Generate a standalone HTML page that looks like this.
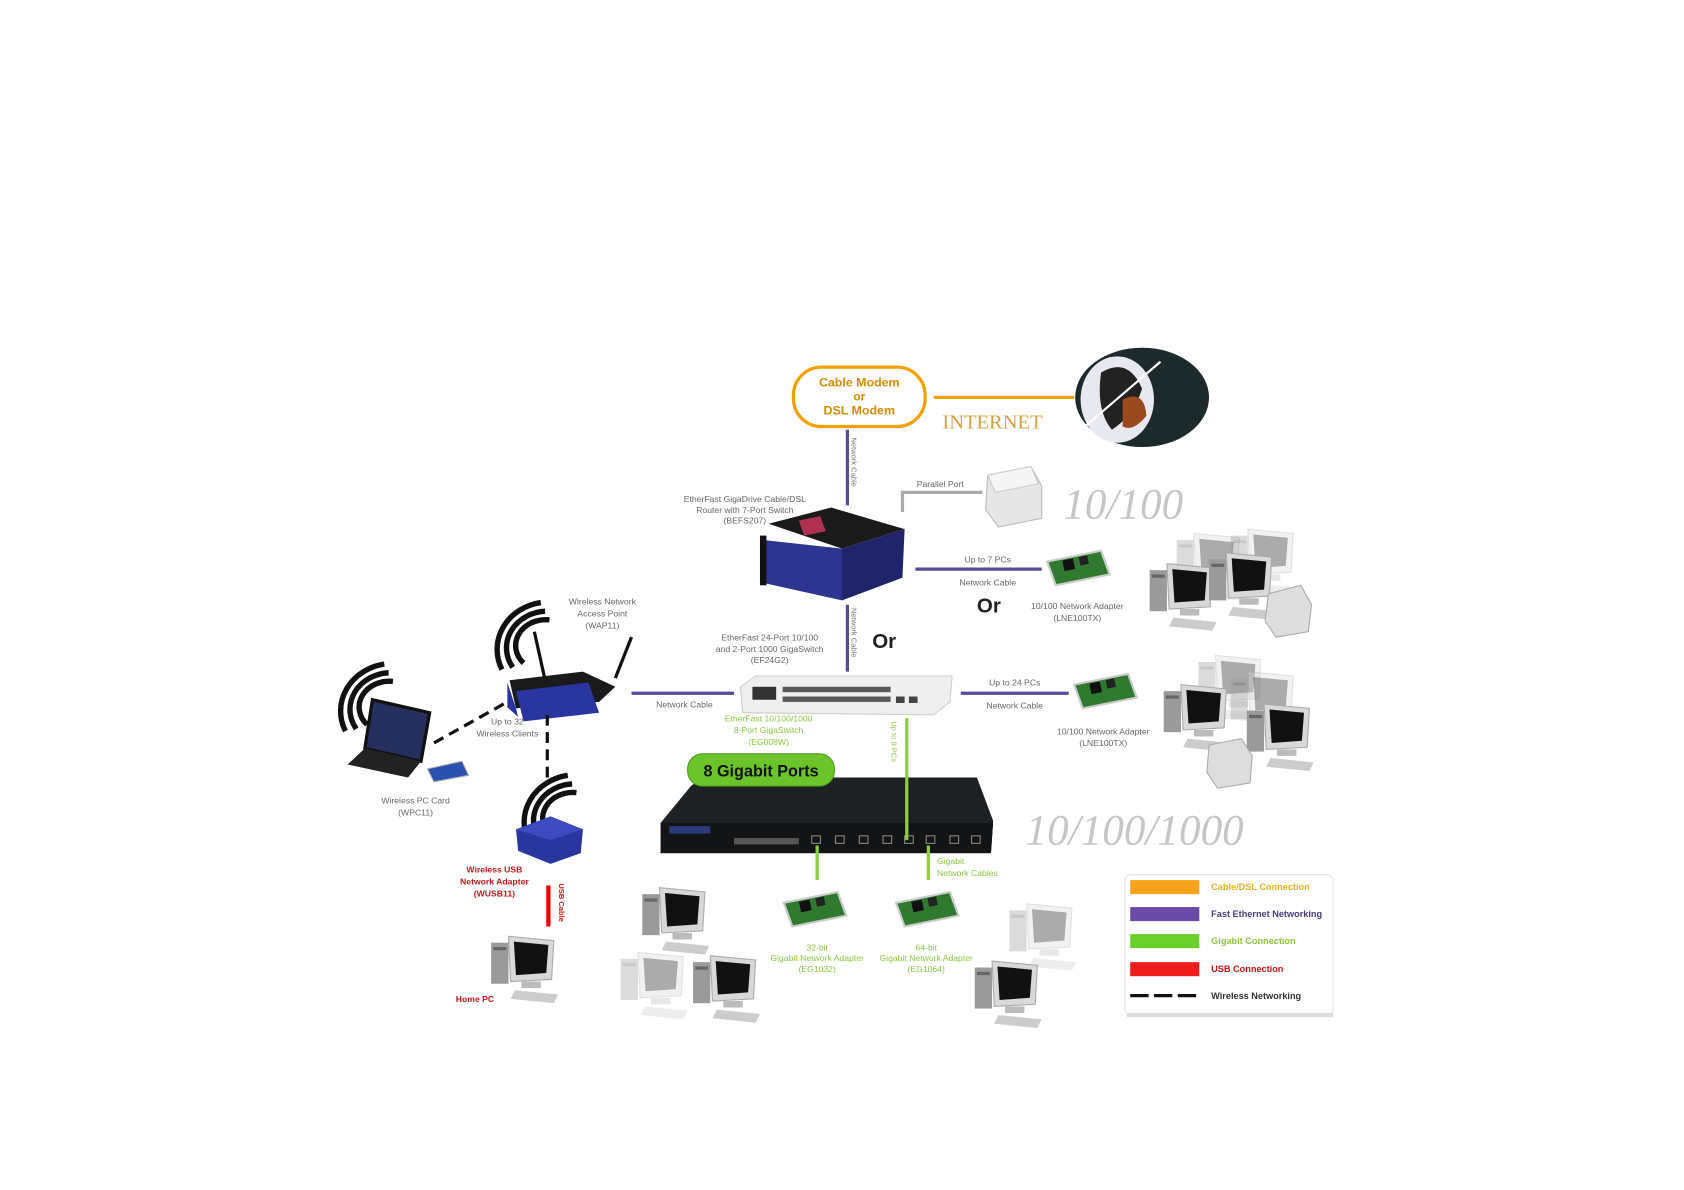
<!DOCTYPE html>
<html><head><meta charset="utf-8"><style>
html,body{margin:0;padding:0;background:#fff;}
svg{display:block;font-family:"Liberation Sans",sans-serif;}
.s{font-size:8px;fill:#666;text-anchor:middle;}
.g{font-size:8px;fill:#8cc63f;text-anchor:middle;}
.r{font-size:8px;fill:#c8161d;text-anchor:middle;font-weight:bold;}
</style></head><body>
<svg width="1684" height="1190" viewBox="0 0 1560 1102" preserveAspectRatio="none" xmlns="http://www.w3.org/2000/svg">
<defs>
<g id="pc">
 <rect x="0" y="8" width="16" height="38" fill="#9a9a9a"/>
 <rect x="2" y="12" width="12" height="3" fill="#666"/>
 <polygon points="16,2 58,6 56,42 18,44" fill="#d8d8d8" stroke="#aaa"/>
 <polygon points="21,7 53,10 51,36 23,38" fill="#111"/>
 <rect x="28" y="44" width="18" height="6" fill="#bbb"/>
 <polygon points="22,52 62,56 58,64 18,60" fill="#ccc"/>
</g>
<g id="pcl" opacity="0.35"><use href="#pc"/></g>
<g id="nic">
 <polygon points="0,10 50,0 58,22 8,32" fill="#2f7a2f" stroke="#ccc" stroke-width="2"/>
 <rect x="15" y="8" width="10" height="10" fill="#111" transform="rotate(-12 20 13)"/>
 <rect x="30" y="5" width="8" height="8" fill="#222" transform="rotate(-12 34 9)"/>
</g>
<g id="arc" fill="none" stroke="#111" stroke-width="5">
 <path d="M40,60 A38,34 0 0 1 70,8"/>
 <path d="M30,62 A48,44 0 0 1 66,0"/>
 <path d="M50,56 A28,24 0 0 1 74,16"/>
</g>
</defs>

<rect x="735" y="340" width="122" height="55" rx="26" fill="#fff" stroke="#f5a000" stroke-width="3"/>
<text x="796" y="358" font-size="11.5" font-weight="bold" fill="#d98a00" text-anchor="middle">Cable Modem</text>
<text x="796" y="371" font-size="11" font-weight="bold" fill="#d98a00" text-anchor="middle">or</text>
<text x="796" y="384" font-size="11.5" font-weight="bold" fill="#d98a00" text-anchor="middle">DSL Modem</text>
<line x1="865" y1="368" x2="995" y2="368" stroke="#f5a000" stroke-width="3"/>
<text x="873" y="397" font-family="Liberation Serif,serif" font-size="19" fill="#d9a040">INTERNET</text>
<ellipse cx="1058" cy="368" rx="62" ry="46" fill="#1d2a2c"/>
<ellipse cx="1035" cy="370" rx="34" ry="40" fill="#e8e8f0"/>
<path d="M1020,345 Q1045,330 1058,360 Q1050,385 1030,398 Q1015,380 1020,345Z" fill="#222"/>
<path d="M1040,370 Q1060,360 1062,385 Q1050,400 1040,395Z" fill="#9a4a1e"/>
<path d="M1005,395 L1075,335" stroke="#fff" stroke-width="2"/>

<line x1="785" y1="398" x2="785" y2="468" stroke="#5a4a9a" stroke-width="3"/>
<text transform="translate(789,405) rotate(90)" font-size="7" fill="#777">Network Cable</text>
<text x="690" y="465" class="s">EtherFast GigaDrive Cable/DSL</text>
<text x="690" y="475" class="s">Router with 7-Port Switch</text>
<text x="690" y="485" class="s">(BEFS207)</text>
<polygon points="712,485 770,470 838,490 780,508" fill="#1a1a1a"/>
<polygon points="740,482 760,478 765,492 745,496" fill="#b03050"/>
<polygon points="706,500 780,508 780,556 708,540" fill="#2e3590"/>
<polygon points="780,508 838,490 836,535 780,556" fill="#20246a"/>
<rect x="704" y="496" width="6" height="46" fill="#111"/>
<polyline points="836,474 836,456 910,456" fill="none" stroke="#aaa" stroke-width="3"/>
<text x="871" y="451" class="s" font-size="7">Parallel Port</text>
<polygon points="915,440 955,432 965,450 965,480 925,488 913,472" fill="#e6e6e6" stroke="#bbb"/>
<polygon points="915,440 955,432 962,448 922,456" fill="#f5f5f5" stroke="#ccc"/>
<text x="985" y="480" font-family="Liberation Serif,serif" font-style="italic" font-size="40" fill="#c6c6c6">10/100</text>

<line x1="848" y1="527" x2="965" y2="527" stroke="#5a4a9a" stroke-width="3"/>
<text x="915" y="521" class="s">Up to 7 PCs</text>
<text x="915" y="542" class="s">Network Cable</text>
<use href="#nic" x="970" y="510"/>
<text x="905" y="567" font-size="19" font-weight="bold" fill="#222">Or</text>
<text x="998" y="564" class="s">10/100 Network Adapter</text>
<text x="998" y="575" class="s">(LNE100TX)</text>
<use href="#pcl" x="1090" y="492"/>
<use href="#pcl" x="1140" y="488"/>
<use href="#pc" x="1065" y="520"/>
<use href="#pc" x="1120" y="510"/>
<polygon points="1175,550 1205,542 1215,560 1212,585 1182,590 1172,575" fill="#ddd" stroke="#aaa"/>

<line x1="785" y1="560" x2="785" y2="622" stroke="#5a4a9a" stroke-width="3"/>
<text transform="translate(789,563) rotate(90)" font-size="7" fill="#777">Network Cable</text>
<text x="808" y="600" font-size="19" font-weight="bold" fill="#222">Or</text>
<text x="713" y="593" class="s">EtherFast 24-Port 10/100</text>
<text x="713" y="604" class="s">and 2-Port 1000 GigaSwitch</text>
<text x="713" y="614" class="s">(EF24G2)</text>
<polygon points="686,636 700,626 882,626 880,650 865,662 688,660" fill="#efefef" stroke="#ccc"/>
<rect x="697" y="636" width="22" height="12" fill="#333"/>
<rect x="725" y="636" width="100" height="5" fill="#333" opacity="0.8"/>
<rect x="725" y="645" width="100" height="5" fill="#333" opacity="0.8"/>
<rect x="830" y="645" width="8" height="6" fill="#444"/><rect x="842" y="645" width="8" height="6" fill="#444"/>

<line x1="585" y1="642" x2="680" y2="642" stroke="#5a4a9a" stroke-width="3"/>
<text x="634" y="655" class="s">Network Cable</text>
<line x1="890" y1="642" x2="990" y2="642" stroke="#5a4a9a" stroke-width="3"/>
<text x="940" y="635" class="s">Up to 24 PCs</text>
<text x="940" y="656" class="s">Network Cable</text>
<use href="#nic" x="995" y="624"/>
<text x="1022" y="680" class="s">10/100 Network Adapter</text>
<text x="1022" y="691" class="s">(LNE100TX)</text>
<use href="#pcl" x="1110" y="605"/>
<use href="#pcl" x="1140" y="620"/>
<use href="#pc" x="1078" y="632"/>
<use href="#pc" x="1155" y="650"/>
<polygon points="1120,690 1150,684 1160,700 1158,725 1128,730 1118,715" fill="#ddd" stroke="#aaa"/>

<use href="#arc" x="435" y="558"/>
<line x1="505" y1="630" x2="495" y2="585" stroke="#111" stroke-width="3"/>
<line x1="570" y1="628" x2="585" y2="590" stroke="#111" stroke-width="3"/>
<polygon points="472,630 540,622 570,636 555,650 478,656" fill="#1a1a1a"/>
<polygon points="470,632 478,656 480,664 470,655" fill="#2a36a0"/>
<polygon points="478,640 545,632 555,660 485,668" fill="#2a36a0"/>
<text x="558" y="560" class="s" fill="#444">Wireless Network</text>
<text x="558" y="571" class="s" fill="#444">Access Point</text>
<text x="558" y="582" class="s" fill="#444">(WAP11)</text>
<use href="#arc" x="290" y="615"/>
<polygon points="345,648 398,660 390,705 338,693" fill="#26305e" stroke="#111" stroke-width="3"/>
<polygon points="338,693 390,705 378,720 322,708" fill="#222"/>
<polygon points="396,712 428,705 434,718 402,724" fill="#2a50b0" stroke="#aaa"/>
<text x="385" y="744" class="s" fill="#444">Wireless PC Card</text>
<text x="385" y="755" class="s" fill="#444">(WPC11)</text>
<line x1="402" y1="688" x2="470" y2="650" stroke="#111" stroke-width="3" stroke-dasharray="10,6"/>
<line x1="507" y1="662" x2="507" y2="720" stroke="#111" stroke-width="3" stroke-dasharray="10,6"/>
<text x="470" y="671" class="s" fill="#444">Up to 32</text>
<text x="470" y="682" class="s" fill="#444">Wireless Clients</text>
<use href="#arc" x="460" y="718"/>
<polygon points="478,768 510,756 540,768 538,790 510,800 480,788" fill="#2a36a0"/>
<polygon points="478,768 510,756 540,768 510,778" fill="#3d4ac0"/>
<text x="458" y="808" class="r">Wireless USB</text>
<text x="458" y="819" class="r">Network Adapter</text>
<text x="458" y="830" class="r">(WUSB11)</text>
<line x1="508" y1="820" x2="508" y2="858" stroke="#e00" stroke-width="4"/>
<text transform="translate(518,818) rotate(90)" font-size="7" fill="#c8161d" font-weight="bold">USB Cable</text>
<use href="#pc" x="455" y="865"/>
<text x="440" y="928" class="r">Home PC</text>

<text x="712" y="668" class="g">EtherFast 10/100/1000</text>
<text x="712" y="679" class="g">8-Port GigaSwitch</text>
<text x="712" y="690" class="g">(EG008W)</text>
<polygon points="640,728 650,720 905,720 920,760 918,790 612,790 612,762" fill="#1e2124"/>
<polygon points="612,762 920,762 918,790 612,790" fill="#121416"/>
<rect x="620" y="765" width="38" height="7" fill="#2a3a7a"/>
<g fill="none" stroke="#888" stroke-width="1">
<rect x="752" y="774" width="8" height="7"/><rect x="774" y="774" width="8" height="7"/><rect x="796" y="774" width="8" height="7"/><rect x="818" y="774" width="8" height="7"/><rect x="838" y="774" width="8" height="7"/><rect x="858" y="774" width="8" height="7"/><rect x="880" y="774" width="8" height="7"/><rect x="900" y="774" width="8" height="7"/></g>
<rect x="680" y="776" width="60" height="6" fill="#555"/>
<line x1="840" y1="665" x2="840" y2="778" stroke="#8cd03f" stroke-width="3"/>
<text transform="translate(826,668) rotate(90)" font-size="7" fill="#8cc63f">Up to 8 PCs</text>
<rect x="637" y="698" width="136" height="30" rx="14" fill="#6bc42a" stroke="#4a9a1a"/>
<text x="705" y="719" font-size="15" font-weight="bold" fill="#111" text-anchor="middle">8 Gigabit Ports</text>
<text x="950" y="782" font-family="Liberation Serif,serif" font-style="italic" font-size="40" fill="#c6c6c6">10/100/1000</text>
<line x1="757" y1="783" x2="757" y2="815" stroke="#8cd03f" stroke-width="3"/>
<line x1="860" y1="783" x2="860" y2="815" stroke="#8cd03f" stroke-width="3"/>
<text x="868" y="800" font-size="8" fill="#8cc63f">Gigabit</text>
<text x="868" y="811" font-size="8" fill="#8cc63f">Network Cables</text>
<use href="#nic" x="726" y="826"/>
<use href="#nic" x="830" y="826"/>
<text x="757" y="880" class="g">32-bit</text>
<text x="757" y="890" class="g">Gigabit Network Adapter</text>
<text x="757" y="900" class="g">(EG1032)</text>
<text x="858" y="880" class="g">64-bit</text>
<text x="858" y="890" class="g">Gigabit Network Adapter</text>
<text x="858" y="900" class="g">(EG1064)</text>
<use href="#pc" x="595" y="820"/>
<use href="#pcl" x="575" y="880"/>
<use href="#pc" x="642" y="883"/>
<use href="#pcl" x="935" y="835"/>
<use href="#pc" x="903" y="888"/>

<rect x="1042" y="810" width="193" height="130" rx="6" fill="#fff" stroke="#e4e4e4"/>
<rect x="1044" y="938" width="191" height="4" fill="#ddd"/>
<rect x="1047" y="815" width="64" height="13" fill="#f7a21b"/>
<rect x="1047" y="840" width="64" height="13" fill="#6a4aa8"/>
<rect x="1047" y="865" width="64" height="13" fill="#6bd12a"/>
<rect x="1047" y="891" width="64" height="13" fill="#ee1c1c"/>
<line x1="1047" y1="922" x2="1111" y2="922" stroke="#111" stroke-width="3" stroke-dasharray="17,5"/>
<g font-size="8.5" font-weight="bold">
<text x="1122" y="824" fill="#e6b020">Cable/DSL Connection</text>
<text x="1122" y="849" fill="#4a3a7a">Fast Ethernet Networking</text>
<text x="1122" y="874" fill="#8cc63f">Gigabit Connection</text>
<text x="1122" y="900" fill="#d01010">USB Connection</text>
<text x="1122" y="925" fill="#333">Wireless Networking</text>
</g>
</svg>
</body></html>
